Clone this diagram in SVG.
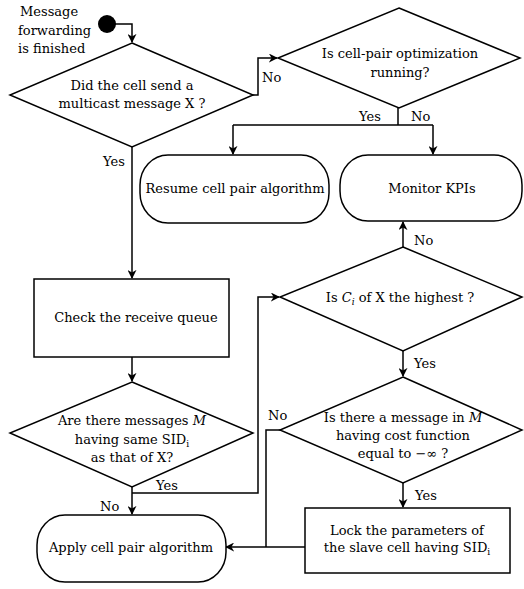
<svg xmlns="http://www.w3.org/2000/svg" width="524" height="589" viewBox="0 0 524 589">
<style>
.s{fill:#fff;stroke:#000;stroke-width:1.5}
.c{fill:none;stroke:#000;stroke-width:1.5}
.a{marker-end:url(#ar)}
text{font-family:'DejaVu Serif',serif;font-size:13px;fill:#000}
.m{text-anchor:middle}
.i{font-style:italic}
</style>
<defs>
<marker id="ar" viewBox="0 0 10 10" refX="9" refY="5" markerWidth="9" markerHeight="9" markerUnits="userSpaceOnUse" orient="auto">
<path d="M0,0 L10,5 L0,10 L3,5 z" fill="#000"/>
</marker>
</defs>
<rect width="524" height="589" fill="#fff"/>
<g id="connectors">
<path class="c a" d="M115,24 H132 V42"/>
<path class="c a" d="M253,95 H258 V58 H277"/>
<path class="c" d="M398,108 V125 M233,125 H433"/>
<path class="c a" d="M233,125 V154"/>
<path class="c a" d="M433,125 V154"/>
<path class="c a" d="M132,147 V278"/>
<path class="c a" d="M132,357 V381"/>
<path class="c a" d="M403,247 V222"/>
<path class="c a" d="M403,351 V376"/>
<path class="c a" d="M403,483 V507"/>
<path class="c a" d="M132,487 V514"/>
<path class="c a" d="M132,493 H258 V297 H279"/>
<path class="c" d="M280,430 H266 V547"/>
<path class="c a" d="M305,547 H226"/>
</g>
<g id="labels">
<text x="262" y="82">No</text>
<text x="359" y="121">Yes</text>
<text x="411" y="121">No</text>
<text x="103" y="166">Yes</text>
<text x="414" y="245">No</text>
<text x="414" y="368">Yes</text>
<text x="415" y="500">Yes</text>
<text x="268" y="420">No</text>
<text x="156" y="490">Yes</text>
<text x="100" y="511">No</text>
</g>
<g id="start">
<circle cx="107" cy="24" r="9" fill="#000"/>
<text x="20" y="16">Message</text>
<text x="18" y="35">forwarding</text>
<text x="18" y="53">is finished</text>
</g>
<g id="d1">
<polygon class="s" points="132,43 253,95 132,147 10,95"/>
<text class="m" x="132" y="90">Did the cell send a</text>
<text class="m" x="132" y="108">multicast message X ?</text>
</g>
<g id="d2">
<polygon class="s" points="399,8 520,58 399,108 278,58"/>
<text class="m" x="400" y="58">Is cell-pair optimization</text>
<text class="m" x="400" y="77">running?</text>
</g>
<g id="resume">
<rect class="s" x="140" y="155" width="189" height="68" rx="28" ry="30"/>
<text class="m" x="235" y="193">Resume cell pair algorithm</text>
</g>
<g id="monitor">
<rect class="s" x="340" y="155" width="182" height="66" rx="28" ry="30"/>
<text class="m" x="432" y="193">Monitor KPIs</text>
</g>
<g id="check">
<rect class="s" x="34" y="279" width="195" height="78"/>
<text class="m" x="136" y="322">Check the receive queue</text>
</g>
<g id="d3">
<polygon class="s" points="403,247 522,297 403,351 280,297"/>
<text class="m" x="400" y="302">Is <tspan class="i">C<tspan font-size="9" dy="3">i</tspan></tspan><tspan dy="-3"> of X the highest ?</tspan></text>
</g>
<g id="d5">
<polygon class="s" points="132,382 253,433 132,487 10,433"/>
<text class="m" x="132" y="425">Are there messages <tspan class="i">M</tspan></text>
<text class="m" x="132" y="444">having same SID<tspan font-size="9" dy="3">i</tspan></text>
<text class="m" x="132" y="462">as that of X?</text>
</g>
<g id="d4">
<polygon class="s" points="403,377 522,430 403,483 280,430"/>
<text class="m" x="403" y="422">Is there a message in <tspan class="i">M</tspan></text>
<text class="m" x="403" y="440">having cost function</text>
<text class="m" x="403" y="458">equal to −∞ ?</text>
</g>
<g id="lock">
<rect class="s" x="305" y="508" width="205" height="65"/>
<text class="m" x="407" y="535">Lock the parameters of</text>
<text class="m" x="407" y="552">the slave cell having SID<tspan font-size="9" dy="3">i</tspan></text>
</g>
<g id="apply">
<rect class="s" x="37" y="515" width="189" height="67" rx="28" ry="30"/>
<text class="m" x="131" y="552">Apply cell pair algorithm</text>
</g>
</svg>
